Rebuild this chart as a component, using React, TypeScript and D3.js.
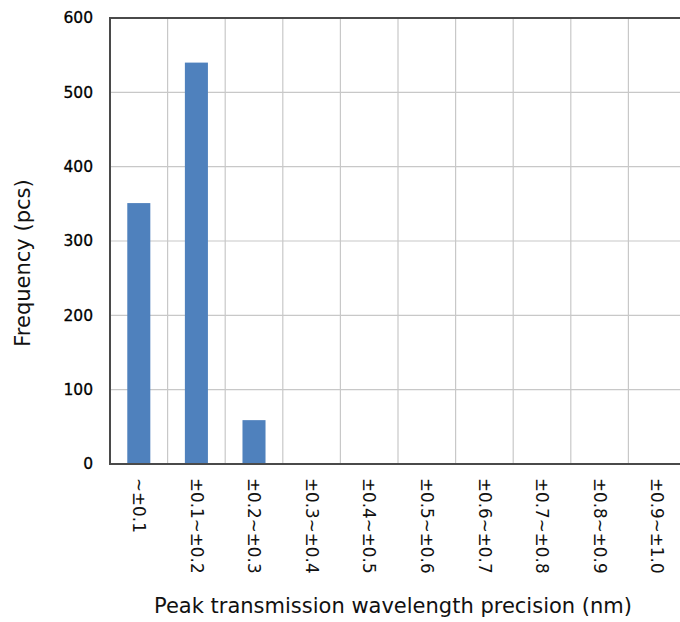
import React from "react";
import * as d3 from "d3";

const categories = [
  "~±0.1",
  "±0.1~±0.2",
  "±0.2~±0.3",
  "±0.3~±0.4",
  "±0.4~±0.5",
  "±0.5~±0.6",
  "±0.6~±0.7",
  "±0.7~±0.8",
  "±0.8~±0.9",
  "±0.9~±1.0",
];
const frequency = [351, 540, 59, 0, 0, 0, 0, 0, 0, 0];
const yTicks = [0, 100, 200, 300, 400, 500, 600];

const W = 680;
const H = 622;
const left = 110;
const right = 686;
const top = 18;
const bottom = 464;
const FONT = "'DejaVu Sans', Verdana, sans-serif";

export default function App() {
  const x = d3.scaleBand<string>().domain(categories).range([left, right]).paddingInner(0).paddingOuter(0);
  const y = d3.scaleLinear().domain([0, 600]).range([bottom, top]);
  const step = x.step();
  const barW = step * 0.4;

  return (
    <svg width={W} height={H} style={{ position: "absolute", left: 0, top: 0, background: "#fff" }}>
      {/* horizontal gridlines */}
      {yTicks.slice(1, -1).map((t) => (
        <line key={"h" + t} x1={left} x2={right} y1={y(t)} y2={y(t)} stroke="#c8c8c8" strokeWidth={1.2} />
      ))}
      {/* vertical gridlines between categories */}
      {categories.slice(1).map((c) => (
        <line key={"v" + c} x1={x(c)!} x2={x(c)!} y1={top} y2={bottom} stroke="#c8c8c8" strokeWidth={1.2} />
      ))}
      {/* bars */}
      {categories.map((c, i) =>
        frequency[i] > 0 ? (
          <rect
            key={"b" + c}
            x={x(c)! + (step - barW) / 2}
            y={y(frequency[i])}
            width={barW}
            height={bottom - y(frequency[i])}
            fill="#4f81bd"
          />
        ) : null
      )}
      {/* frame */}
      <line x1={left} x2={right} y1={top} y2={top} stroke="#4a4a4a" strokeWidth={2} />
      <line x1={left} x2={right} y1={bottom} y2={bottom} stroke="#4a4a4a" strokeWidth={2} />
      <line x1={left} x2={left} y1={top - 1} y2={bottom + 1} stroke="#4a4a4a" strokeWidth={2} />
      {/* y tick labels */}
      {yTicks.map((t) => (
        <text key={"yt" + t} x={93} y={y(t)} dy="0.35em" textAnchor="end" fontFamily={FONT} fontSize={15.5} fill="#000" stroke="#000" strokeWidth={0.3}>
          {t}
        </text>
      ))}
      {/* x tick labels, rotated */}
      {categories.map((c) => {
        const cx = x(c)! + step / 2;
        return (
          <text
            key={"xt" + c}
            transform={`translate(${cx},${478}) rotate(90)`}
            dy="0.35em"
            textAnchor="start"
            fontFamily={FONT}
            fontSize={16.8}
            fill="#111"
          >
            {c}
          </text>
        );
      })}
      {/* axis titles */}
      <text x={393} y={613} textAnchor="middle" fontFamily={FONT} fontSize={21} fill="#111">
        Peak transmission wavelength precision (nm)
      </text>
      <text transform={`translate(30,263) rotate(-90)`} textAnchor="middle" fontFamily={FONT} fontSize={21} fill="#111">
        Frequency (pcs)
      </text>
    </svg>
  );
}
